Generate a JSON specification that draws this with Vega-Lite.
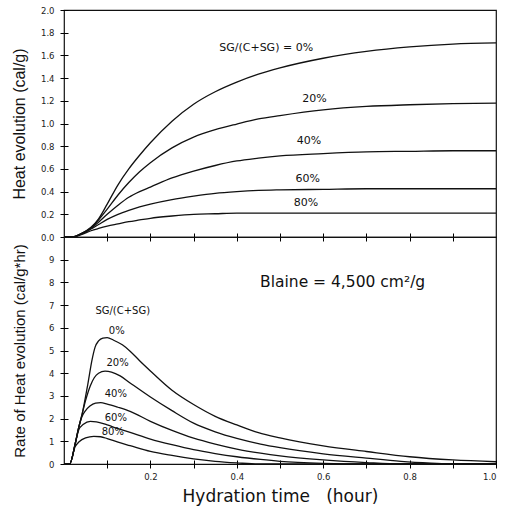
{
  "$schema": "https://vega.github.io/schema/vega-lite/v6.json",
  "padding": {"left": 10, "top": 5, "right": 5, "bottom": 5},
  "background": "white",
  "bounds": "flush",
  "spacing": 0,
  "config": {
    "font": "DejaVu Sans",
    "view": {"stroke": "#111", "strokeWidth": 1.2},
    "axis": {
      "domain": false, "grid": false, "ticks": true, "tickColor": "black", "tickOpacity": 1, "tickWidth": 1,
      "labelOverlap": false,
      "labelFont": "DejaVu Sans", "labelFontSize": 8.5, "labelColor": "#222",
      "titleFont": "Liberation Sans", "titleFontWeight": "normal", "titleColor": "#111"
    }
  },
  "datasets": {
    "heat": [
      {"t":0,"q":0,"sg":"0%"},{"t":0.02,"q":0,"sg":"0%"},{"t":0.04,"q":0.03,"sg":"0%"},{"t":0.0625,"q":0.085,"sg":"0%"},{"t":0.08,"q":0.16,"sg":"0%"},{"t":0.1,"q":0.29,"sg":"0%"},{"t":0.125,"q":0.46,"sg":"0%"},{"t":0.15,"q":0.6,"sg":"0%"},{"t":0.175,"q":0.72,"sg":"0%"},{"t":0.2,"q":0.83,"sg":"0%"},{"t":0.25,"q":1.02,"sg":"0%"},{"t":0.3,"q":1.17,"sg":"0%"},{"t":0.35,"q":1.28,"sg":"0%"},{"t":0.4,"q":1.365,"sg":"0%"},{"t":0.45,"q":1.435,"sg":"0%"},{"t":0.5,"q":1.49,"sg":"0%"},{"t":0.6,"q":1.575,"sg":"0%"},{"t":0.7,"q":1.635,"sg":"0%"},{"t":0.8,"q":1.675,"sg":"0%"},{"t":0.9,"q":1.7,"sg":"0%"},{"t":1.0,"q":1.71,"sg":"0%"},
      {"t":0,"q":0,"sg":"20%"},{"t":0.02,"q":0,"sg":"20%"},{"t":0.04,"q":0.03,"sg":"20%"},{"t":0.0625,"q":0.08,"sg":"20%"},{"t":0.08,"q":0.15,"sg":"20%"},{"t":0.1,"q":0.245,"sg":"20%"},{"t":0.125,"q":0.37,"sg":"20%"},{"t":0.15,"q":0.48,"sg":"20%"},{"t":0.175,"q":0.575,"sg":"20%"},{"t":0.2,"q":0.655,"sg":"20%"},{"t":0.25,"q":0.785,"sg":"20%"},{"t":0.3,"q":0.88,"sg":"20%"},{"t":0.35,"q":0.945,"sg":"20%"},{"t":0.4,"q":0.995,"sg":"20%"},{"t":0.45,"q":1.04,"sg":"20%"},{"t":0.5,"q":1.07,"sg":"20%"},{"t":0.6,"q":1.12,"sg":"20%"},{"t":0.7,"q":1.15,"sg":"20%"},{"t":0.8,"q":1.165,"sg":"20%"},{"t":0.9,"q":1.175,"sg":"20%"},{"t":1.0,"q":1.18,"sg":"20%"},
      {"t":0,"q":0,"sg":"40%"},{"t":0.02,"q":0,"sg":"40%"},{"t":0.04,"q":0.03,"sg":"40%"},{"t":0.0625,"q":0.075,"sg":"40%"},{"t":0.08,"q":0.13,"sg":"40%"},{"t":0.1,"q":0.2,"sg":"40%"},{"t":0.125,"q":0.28,"sg":"40%"},{"t":0.15,"q":0.35,"sg":"40%"},{"t":0.175,"q":0.4,"sg":"40%"},{"t":0.2,"q":0.44,"sg":"40%"},{"t":0.25,"q":0.52,"sg":"40%"},{"t":0.3,"q":0.58,"sg":"40%"},{"t":0.35,"q":0.63,"sg":"40%"},{"t":0.4,"q":0.67,"sg":"40%"},{"t":0.45,"q":0.695,"sg":"40%"},{"t":0.5,"q":0.715,"sg":"40%"},{"t":0.6,"q":0.735,"sg":"40%"},{"t":0.7,"q":0.75,"sg":"40%"},{"t":0.8,"q":0.755,"sg":"40%"},{"t":0.9,"q":0.76,"sg":"40%"},{"t":1.0,"q":0.76,"sg":"40%"},
      {"t":0,"q":0,"sg":"60%"},{"t":0.02,"q":0,"sg":"60%"},{"t":0.04,"q":0.025,"sg":"60%"},{"t":0.0625,"q":0.07,"sg":"60%"},{"t":0.08,"q":0.11,"sg":"60%"},{"t":0.1,"q":0.155,"sg":"60%"},{"t":0.125,"q":0.2,"sg":"60%"},{"t":0.15,"q":0.235,"sg":"60%"},{"t":0.175,"q":0.265,"sg":"60%"},{"t":0.2,"q":0.29,"sg":"60%"},{"t":0.25,"q":0.33,"sg":"60%"},{"t":0.3,"q":0.36,"sg":"60%"},{"t":0.35,"q":0.385,"sg":"60%"},{"t":0.4,"q":0.4,"sg":"60%"},{"t":0.45,"q":0.41,"sg":"60%"},{"t":0.5,"q":0.415,"sg":"60%"},{"t":0.6,"q":0.42,"sg":"60%"},{"t":0.7,"q":0.425,"sg":"60%"},{"t":0.8,"q":0.425,"sg":"60%"},{"t":0.9,"q":0.425,"sg":"60%"},{"t":1.0,"q":0.425,"sg":"60%"},
      {"t":0,"q":0,"sg":"80%"},{"t":0.02,"q":0,"sg":"80%"},{"t":0.04,"q":0.02,"sg":"80%"},{"t":0.0625,"q":0.055,"sg":"80%"},{"t":0.08,"q":0.075,"sg":"80%"},{"t":0.1,"q":0.095,"sg":"80%"},{"t":0.125,"q":0.115,"sg":"80%"},{"t":0.15,"q":0.135,"sg":"80%"},{"t":0.175,"q":0.15,"sg":"80%"},{"t":0.2,"q":0.165,"sg":"80%"},{"t":0.25,"q":0.185,"sg":"80%"},{"t":0.3,"q":0.2,"sg":"80%"},{"t":0.35,"q":0.205,"sg":"80%"},{"t":0.4,"q":0.21,"sg":"80%"},{"t":0.45,"q":0.21,"sg":"80%"},{"t":0.5,"q":0.21,"sg":"80%"},{"t":0.6,"q":0.21,"sg":"80%"},{"t":0.7,"q":0.21,"sg":"80%"},{"t":0.8,"q":0.21,"sg":"80%"},{"t":0.9,"q":0.21,"sg":"80%"},{"t":1.0,"q":0.21,"sg":"80%"}
    ],
    "rate": [
      {"t":0,"r":0,"sg":"0%"},{"t":0.013,"r":0,"sg":"0%"},{"t":0.026,"r":0.9,"sg":"0%"},{"t":0.034,"r":1.6,"sg":"0%"},{"t":0.042,"r":2.2,"sg":"0%"},{"t":0.055,"r":3.5,"sg":"0%"},{"t":0.065,"r":4.6,"sg":"0%"},{"t":0.072,"r":5.15,"sg":"0%"},{"t":0.08,"r":5.42,"sg":"0%"},{"t":0.09,"r":5.55,"sg":"0%"},{"t":0.1,"r":5.57,"sg":"0%"},{"t":0.115,"r":5.45,"sg":"0%"},{"t":0.135,"r":5.25,"sg":"0%"},{"t":0.153,"r":4.97,"sg":"0%"},{"t":0.175,"r":4.55,"sg":"0%"},{"t":0.2,"r":4.1,"sg":"0%"},{"t":0.25,"r":3.25,"sg":"0%"},{"t":0.3,"r":2.62,"sg":"0%"},{"t":0.35,"r":2.1,"sg":"0%"},{"t":0.4,"r":1.72,"sg":"0%"},{"t":0.45,"r":1.38,"sg":"0%"},{"t":0.5,"r":1.15,"sg":"0%"},{"t":0.6,"r":0.8,"sg":"0%"},{"t":0.7,"r":0.55,"sg":"0%"},{"t":0.8,"r":0.32,"sg":"0%"},{"t":0.9,"r":0.18,"sg":"0%"},{"t":1.0,"r":0.1,"sg":"0%"},
      {"t":0,"r":0,"sg":"20%"},{"t":0.013,"r":0,"sg":"20%"},{"t":0.026,"r":0.9,"sg":"20%"},{"t":0.034,"r":1.6,"sg":"20%"},{"t":0.042,"r":2.2,"sg":"20%"},{"t":0.05,"r":2.8,"sg":"20%"},{"t":0.061,"r":3.45,"sg":"20%"},{"t":0.07,"r":3.8,"sg":"20%"},{"t":0.08,"r":4.0,"sg":"20%"},{"t":0.095,"r":4.09,"sg":"20%"},{"t":0.11,"r":4.05,"sg":"20%"},{"t":0.13,"r":3.88,"sg":"20%"},{"t":0.153,"r":3.57,"sg":"20%"},{"t":0.2,"r":2.95,"sg":"20%"},{"t":0.25,"r":2.35,"sg":"20%"},{"t":0.3,"r":1.8,"sg":"20%"},{"t":0.35,"r":1.42,"sg":"20%"},{"t":0.4,"r":1.13,"sg":"20%"},{"t":0.455,"r":0.88,"sg":"20%"},{"t":0.5,"r":0.72,"sg":"20%"},{"t":0.6,"r":0.45,"sg":"20%"},{"t":0.7,"r":0.26,"sg":"20%"},{"t":0.78,"r":0.12,"sg":"20%"},{"t":0.85,"r":0.04,"sg":"20%"},{"t":0.9,"r":0,"sg":"20%"},{"t":1.0,"r":0,"sg":"20%"},
      {"t":0,"r":0,"sg":"40%"},{"t":0.013,"r":0,"sg":"40%"},{"t":0.026,"r":0.9,"sg":"40%"},{"t":0.034,"r":1.6,"sg":"40%"},{"t":0.042,"r":2.1,"sg":"40%"},{"t":0.05,"r":2.35,"sg":"40%"},{"t":0.06,"r":2.55,"sg":"40%"},{"t":0.073,"r":2.68,"sg":"40%"},{"t":0.085,"r":2.7,"sg":"40%"},{"t":0.1,"r":2.64,"sg":"40%"},{"t":0.125,"r":2.5,"sg":"40%"},{"t":0.153,"r":2.32,"sg":"40%"},{"t":0.2,"r":1.88,"sg":"40%"},{"t":0.25,"r":1.48,"sg":"40%"},{"t":0.3,"r":1.14,"sg":"40%"},{"t":0.35,"r":0.88,"sg":"40%"},{"t":0.4,"r":0.66,"sg":"40%"},{"t":0.455,"r":0.48,"sg":"40%"},{"t":0.5,"r":0.36,"sg":"40%"},{"t":0.6,"r":0.18,"sg":"40%"},{"t":0.7,"r":0.06,"sg":"40%"},{"t":0.78,"r":0,"sg":"40%"},{"t":1.0,"r":0,"sg":"40%"},
      {"t":0,"r":0,"sg":"60%"},{"t":0.013,"r":0,"sg":"60%"},{"t":0.026,"r":0.9,"sg":"60%"},{"t":0.034,"r":1.5,"sg":"60%"},{"t":0.045,"r":1.75,"sg":"60%"},{"t":0.061,"r":1.88,"sg":"60%"},{"t":0.075,"r":1.86,"sg":"60%"},{"t":0.1,"r":1.72,"sg":"60%"},{"t":0.125,"r":1.56,"sg":"60%"},{"t":0.153,"r":1.39,"sg":"60%"},{"t":0.2,"r":1.1,"sg":"60%"},{"t":0.25,"r":0.85,"sg":"60%"},{"t":0.3,"r":0.63,"sg":"60%"},{"t":0.35,"r":0.46,"sg":"60%"},{"t":0.4,"r":0.32,"sg":"60%"},{"t":0.455,"r":0.2,"sg":"60%"},{"t":0.5,"r":0.12,"sg":"60%"},{"t":0.6,"r":0.03,"sg":"60%"},{"t":0.7,"r":0,"sg":"60%"},{"t":1.0,"r":0,"sg":"60%"},
      {"t":0,"r":0,"sg":"80%"},{"t":0.013,"r":0,"sg":"80%"},{"t":0.026,"r":0.77,"sg":"80%"},{"t":0.035,"r":0.98,"sg":"80%"},{"t":0.05,"r":1.15,"sg":"80%"},{"t":0.069,"r":1.22,"sg":"80%"},{"t":0.085,"r":1.2,"sg":"80%"},{"t":0.1,"r":1.12,"sg":"80%"},{"t":0.125,"r":0.96,"sg":"80%"},{"t":0.153,"r":0.81,"sg":"80%"},{"t":0.2,"r":0.56,"sg":"80%"},{"t":0.25,"r":0.38,"sg":"80%"},{"t":0.3,"r":0.23,"sg":"80%"},{"t":0.35,"r":0.12,"sg":"80%"},{"t":0.4,"r":0.05,"sg":"80%"},{"t":0.45,"r":0,"sg":"80%"},{"t":1.0,"r":0,"sg":"80%"}
    ],
    "heatLabels": [
      {"t":0.468,"q":1.665,"label":"SG/(C+SG) = 0%"},
      {"t":0.58,"q":1.22,"label":"20%"},
      {"t":0.567,"q":0.85,"label":"40%"},
      {"t":0.564,"q":0.51,"label":"60%"},
      {"t":0.56,"q":0.3,"label":"80%"}
    ],
    "rateLabels": [
      {"t":0.136,"r":6.74,"label":"SG/(C+SG)"},
      {"t":0.122,"r":5.86,"label":"0%"},
      {"t":0.124,"r":4.46,"label":"20%"},
      {"t":0.12,"r":3.08,"label":"40%"},
      {"t":0.12,"r":2.02,"label":"60%"},
      {"t":0.113,"r":1.43,"label":"80%"}
    ],
    "blaine": [
      {"t":0.645,"r":8.0,"label":"Blaine = 4,500 cm²/g"}
    ]
  },
  "vconcat": [
    {
      "width": 432,
      "height": 227,
      "encoding": {
        "x": {"field": "t", "type": "quantitative", "scale": {"domain": [0, 1], "nice": false},
              "axis": {"values": [0.1,0.2,0.3,0.4,0.5,0.6,0.7,0.8,0.9], "labels": false, "ticks": true, "tickSize": 8, "offset": -4, "title": null}},
        "y": {"field": "q", "type": "quantitative", "scale": {"domain": [0, 2], "nice": false},
              "axis": {"values": [0,0.2,0.4,0.6,0.8,1.0,1.2,1.4,1.6,1.8,2.0], "format": ".1f", "ticks": true, "tickSize": 8, "offset": -4, "labelOverlap": false,
                       "title": "Heat evolution (cal/g)", "titleFontSize": 16, "labelPadding": 6, "titlePadding": 13}}
      },
      "layer": [
        {
          "data": {"name": "heat"},
          "mark": {"type": "line", "color": "#111", "strokeWidth": 1.3, "interpolate": "monotone"},
          "encoding": {"detail": {"field": "sg", "type": "nominal"}}
        },
        {
          "data": {"name": "heatLabels"},
          "mark": {"type": "text", "fontSize": 11, "color": "#111", "font": "DejaVu Sans"},
          "encoding": {"text": {"field": "label"}}
        }
      ]
    },
    {
      "width": 432,
      "height": 227,
      "encoding": {
        "x": {"field": "t", "type": "quantitative", "scale": {"domain": [0, 1], "nice": false},
              "axis": {"values": [0.1,0.2,0.3,0.4,0.5,0.6,0.7,0.8,0.9,1.0], "format": ".1f", "ticks": true, "tickSize": 8, "offset": -4, "labelOverlap": false,
                       "labelExpr": "round(datum.value*10) % 2 == 0 ? datum.label : ''",
                       "labelPadding": 4,
                       "title": "Hydration time\u00a0\u00a0 (hour)", "titleFont": "DejaVu Sans", "titleFontSize": 17, "titlePadding": 8}},
        "y": {"field": "r", "type": "quantitative", "scale": {"domain": [0, 10], "nice": false},
              "axis": {"values": [0,1,2,3,4,5,6,7,8,9], "format": "d", "ticks": true, "tickSize": 8, "offset": -4, "labelOverlap": false,
                       "title": "Rate of Heat evolution (cal/g*hr)", "titleFontSize": 15, "labelPadding": 6, "titlePadding": 21}}
      },
      "layer": [
        {
          "data": {"name": "rate"},
          "mark": {"type": "line", "color": "#111", "strokeWidth": 1.3, "interpolate": "monotone"},
          "encoding": {"detail": {"field": "sg", "type": "nominal"}}
        },
        {
          "data": {"name": "rateLabels"},
          "mark": {"type": "text", "fontSize": 10, "color": "#111", "font": "DejaVu Sans"},
          "encoding": {"text": {"field": "label"}}
        },
        {
          "data": {"name": "blaine"},
          "mark": {"type": "text", "fontSize": 15.5, "color": "#111", "font": "DejaVu Sans"},
          "encoding": {"text": {"field": "label"}}
        }
      ]
    }
  ]
}
